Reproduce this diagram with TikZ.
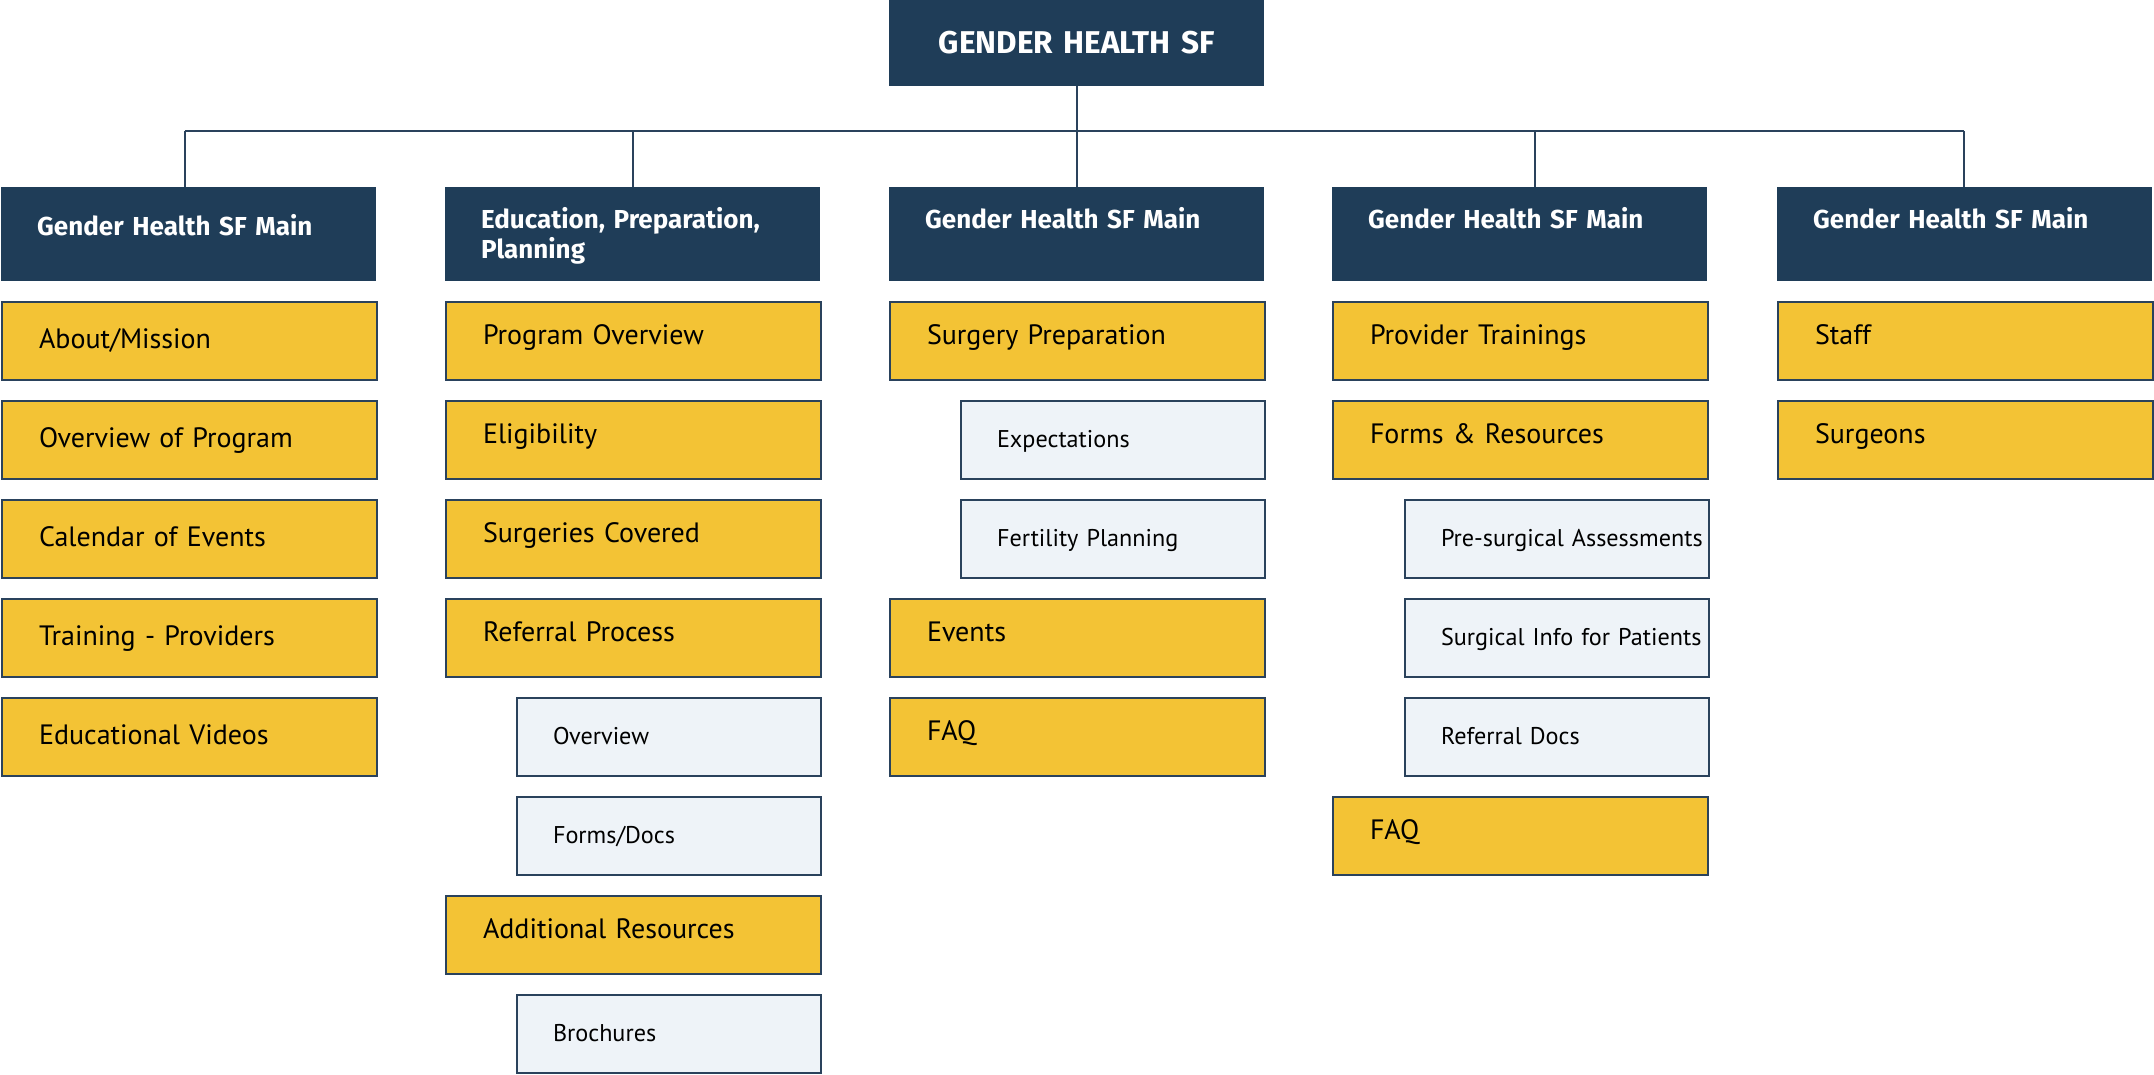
\documentclass[tikz,border=0pt]{standalone}
\usepackage{fontspec}
\setmainfont{PT Sans}
\newfontfamily\hfont{Fira Sans}
\definecolor{navy}{RGB}{31,61,88}
\definecolor{edge}{RGB}{42,66,92}
\definecolor{gold}{RGB}{243,195,53}
\definecolor{pale}{RGB}{238,243,248}
\tikzset{
  boxbase/.style={rectangle, anchor=north west, inner ysep=0pt, align=left},
  topbox/.style={boxbase, fill=navy, text=white, text width=375pt, inner xsep=0pt, align=center,
     text height=53pt, text depth=33pt, font=\hfont\bfseries\fontsize{31.5}{36}\selectfont},
  hbox/.style={boxbase, fill=navy, text=white, text width=303pt, inner xsep=36pt,
     text height=41pt, text depth=53pt, font=\hfont\bfseries\fontsize{26}{30}\selectfont},
  hboxlow/.style={hbox, text height=48pt, text depth=46pt},
  ybox/.style={boxbase, fill=gold, draw=edge, line width=2pt, text width=301pt, inner xsep=37pt,
     text height=42pt, text depth=36pt, font=\fontsize{28}{34}\selectfont},
  yboxlow/.style={ybox, text height=46pt, text depth=32pt},
  sbox/.style={boxbase, fill=pale, draw=edge, line width=2pt, text width=232pt, inner xsep=36pt,
     text height=46pt, text depth=32pt, font=\fontsize{24.2}{28}\selectfont},
  conn/.style={draw=edge, line width=2pt}
}
\begin{document}
\begin{tikzpicture}[x=1pt,y=-1pt]
\useasboundingbox (0,0) rectangle (2154,1075);
% top
\node[topbox] (top) at (889,0) {GENDER HEALTH SF};
% headers
\node[hboxlow] (h1) at (1,187) {Gender Health SF Main};
\node[hbox] (h2) at (445,187) {Education, Preparation,\\Planning};
\node[hbox] (h3) at (889,187) {Gender Health SF Main};
\node[hbox] (h4) at (1332,187) {Gender Health SF Main};
\node[hbox] (h5) at (1777,187) {Gender Health SF Main};
% connectors
\coordinate (b1) at (185,131);
\coordinate (b2) at (633,131);
\coordinate (b3) at (1077,131);
\coordinate (b4) at (1535,131);
\coordinate (b5) at (1964,131);
\draw[conn] (top.south) -- (top.south |- b3);
\draw[conn] (b1) -- (b5);
\draw[conn] (b1) -- (b1 |- h1.north);
\draw[conn] (b2) -- (b2 |- h2.north);
\draw[conn] (b3) -- (b3 |- h3.north);
\draw[conn] (b4) -- (b4 |- h4.north);
\draw[conn] (b5) -- (b5 |- h5.north);
% column 1
\node[yboxlow] (a1) at (1,301) {About/Mission};
\node[yboxlow] (a2) at (1,400) {Overview of Program};
\node[yboxlow] (a3) at (1,499) {Calendar of Events};
\node[yboxlow] (a4) at (1,598) {Training - Providers};
\node[yboxlow] (a5) at (1,697) {Educational Videos};
% column 2
\node[ybox] (e1) at (445,301) {Program Overview};
\node[ybox] (e2) at (445,400) {Eligibility};
\node[ybox] (e3) at (445,499) {Surgeries Covered};
\node[ybox] (e4) at (445,598) {Referral Process};
\node[sbox] (e5) at (516,697) {Overview};
\node[sbox] (e6) at (516,796) {Forms/Docs};
\node[ybox] (e7) at (445,895) {Additional Resources};
\node[sbox] (e8) at (516,994) {Brochures};
% column 3
\node[ybox] (s1) at (889,301) {Surgery Preparation};
\node[sbox] (s2) at (960,400) {Expectations};
\node[sbox] (s3) at (960,499) {Fertility Planning};
\node[ybox] (s4) at (889,598) {Events};
\node[ybox] (s5) at (889,697) {FAQ};
% column 4
\node[ybox] (p1) at (1332,301) {Provider Trainings};
\node[ybox] (p2) at (1332,400) {Forms \& Resources};
\node[sbox] (p3) at (1404,499) {\mbox{Pre-surgical Assessments}};
\node[sbox] (p4) at (1404,598) {\mbox{Surgical Info for Patients}};
\node[sbox] (p5) at (1404,697) {Referral Docs};
\node[ybox] (p6) at (1332,796) {FAQ};
% column 5
\node[ybox] (t1) at (1777,301) {Staff};
\node[ybox] (t2) at (1777,400) {Surgeons};
\end{tikzpicture}
\end{document}
